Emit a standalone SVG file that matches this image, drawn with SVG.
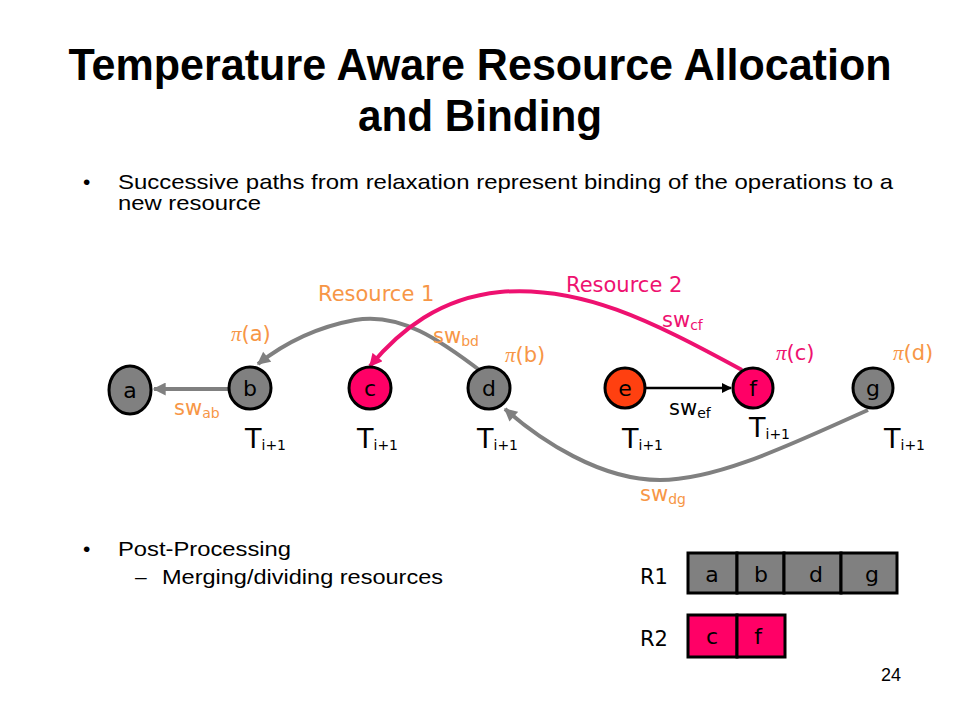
<svg xmlns="http://www.w3.org/2000/svg" width="960" height="720" viewBox="0 0 960 720">
<style>
.title{font-family:"Liberation Sans",Arial,sans-serif;font-weight:bold;font-size:44px;fill:#000}
.body{font-family:"Liberation Sans",Arial,sans-serif;font-size:21px;fill:#000}
.lbl{font-family:"DejaVu Sans",Verdana,sans-serif;font-size:21px}
.nl{font-family:"DejaVu Sans",Verdana,sans-serif;font-size:22px;fill:#000;text-anchor:middle}
.t{font-family:"DejaVu Sans",Verdana,sans-serif;font-size:27px;fill:#000}
.sub{font-size:14px}
.or{fill:#F79646}
.mg{fill:#EE1170}
.bk{fill:#000}
.node{stroke:#000;stroke-width:3}
.gray{fill:#808080}
.pink{fill:#FF0066}
.cell{stroke:#000;stroke-width:3}
.eg{fill:none;stroke:#808080;stroke-width:4}
.em{fill:none;stroke:#EE1170;stroke-width:4}
.eb{fill:none;stroke:#000;stroke-width:2.5}
</style>
<defs>
<marker id="ag" markerUnits="userSpaceOnUse" viewBox="0 0 10 10" refX="9" refY="5" markerWidth="14" markerHeight="13" orient="auto"><path d="M0,0 L10,5 L0,10 Z" fill="#808080"/></marker>
<marker id="am" markerUnits="userSpaceOnUse" viewBox="0 0 10 10" refX="9" refY="5" markerWidth="14" markerHeight="13" orient="auto"><path d="M0,0 L10,5 L0,10 Z" fill="#EE1170"/></marker>
<marker id="ab" markerUnits="userSpaceOnUse" viewBox="0 0 10 10" refX="9" refY="5" markerWidth="12" markerHeight="10" orient="auto"><path d="M0,0 L10,5 L0,10 Z" fill="#000"/></marker>
</defs>
<rect width="960" height="720" fill="#fff"/>
<text class="title" x="480" y="80" text-anchor="middle" textLength="823" lengthAdjust="spacingAndGlyphs">Temperature Aware Resource Allocation</text>
<text class="title" x="480" y="131" text-anchor="middle" textLength="244" lengthAdjust="spacingAndGlyphs">and Binding</text>
<text class="body" x="83" y="189">•</text>
<text class="body" x="118" y="189" textLength="775" lengthAdjust="spacingAndGlyphs">Successive paths from relaxation represent binding of the operations to a</text>
<text class="body" x="118" y="210" textLength="143" lengthAdjust="spacingAndGlyphs">new resource</text>
<text class="body" x="83" y="556">•</text>
<text class="body" x="118" y="556" textLength="173" lengthAdjust="spacingAndGlyphs">Post-Processing</text>
<text class="body" x="135" y="584">–</text>
<text class="body" x="162" y="584" textLength="281" lengthAdjust="spacingAndGlyphs">Merging/dividing resources</text>
<g id="connectors">
<line class="eg" x1="229" y1="389" x2="154" y2="389" marker-end="url(#ag)"/>
<path class="eg" d="M482,372 C440,340 400,312 355,320 C312,328 282,345 258,364" marker-end="url(#ag)"/>
<path class="em" d="M742,370 C650,320 580,285 500,292 C440,298 400,330 370,366" marker-end="url(#am)"/>
<line class="eb" x1="646" y1="388" x2="731" y2="388" marker-end="url(#ab)"/>
<path class="eg" d="M868,410 C800,440 720,480 660,480 C600,480 540,440 505,409" marker-end="url(#ag)"/>
</g>
<g id="node-a"><ellipse class="node gray" cx="130" cy="390" rx="21" ry="24"/><text class="nl" x="130" y="398">a</text></g>
<g id="node-b"><circle class="node gray" cx="250" cy="388" r="21"/><text class="nl" x="250" y="396">b</text></g>
<g id="node-c"><circle class="node pink" cx="370" cy="388" r="21"/><text class="nl" x="370" y="396">c</text></g>
<g id="node-d"><circle class="node gray" cx="489" cy="388" r="21"/><text class="nl" x="489" y="396">d</text></g>
<g id="node-e"><circle class="node" fill="#FF4010" cx="625" cy="388" r="20"/><text class="nl" x="625" y="396">e</text></g>
<g id="node-f"><circle class="node pink" cx="753" cy="388" r="20"/><text class="nl" x="753" y="396">f</text></g>
<g id="node-g"><circle class="node gray" cx="873" cy="388" r="20"/><text class="nl" x="873" y="396">g</text></g>
<g id="labels">
<text class="lbl or" x="318" y="301">Resource 1</text>
<text class="lbl mg" x="566" y="292">Resource 2</text>
<text class="lbl or" x="174" y="415">sw<tspan class="sub" dy="3">ab</tspan></text>
<text class="lbl or" x="433" y="343">sw<tspan class="sub" dy="3">bd</tspan></text>
<text class="lbl mg" x="662" y="327">sw<tspan class="sub" dy="3">cf</tspan></text>
<text class="lbl bk" x="669" y="415">sw<tspan class="sub" dy="3">ef</tspan></text>
<text class="lbl or" x="640" y="501">sw<tspan class="sub" dy="3">dg</tspan></text>
<text class="lbl or" x="231" y="341"><tspan font-family="'Liberation Serif',serif" font-style="italic">π</tspan>(a)</text>
<text class="lbl or" x="505" y="362"><tspan font-family="'Liberation Serif',serif" font-style="italic">π</tspan>(b)</text>
<text class="lbl mg" x="776" y="360"><tspan font-family="'Liberation Serif',serif" font-style="italic">π</tspan>(c)</text>
<text class="lbl or" x="893" y="360"><tspan font-family="'Liberation Serif',serif" font-style="italic">π</tspan>(d)</text>
<text class="t" x="245" y="448">T<tspan class="sub" dy="2">i+1</tspan></text>
<text class="t" x="357" y="448">T<tspan class="sub" dy="2">i+1</tspan></text>
<text class="t" x="477" y="448">T<tspan class="sub" dy="2">i+1</tspan></text>
<text class="t" x="622" y="448">T<tspan class="sub" dy="2">i+1</tspan></text>
<text class="t" x="749" y="437">T<tspan class="sub" dy="2">i+1</tspan></text>
<text class="t" x="884" y="448">T<tspan class="sub" dy="2">i+1</tspan></text>
</g>
<g id="R1">
<text class="lbl bk" x="640" y="584">R1</text>
<rect class="cell gray" x="688" y="553" width="49" height="40"/>
<rect class="cell gray" x="737" y="553" width="47" height="40"/>
<rect class="cell gray" x="784" y="553" width="57" height="40"/>
<rect class="cell gray" x="841" y="553" width="56" height="40"/>
<text class="nl" x="712" y="582">a</text>
<text class="nl" x="761" y="582">b</text>
<text class="nl" x="816" y="582">d</text>
<text class="nl" x="872" y="582">g</text>
</g>
<g id="R2">
<text class="lbl bk" x="640" y="646">R2</text>
<rect class="cell pink" x="688" y="615" width="49" height="42"/>
<rect class="cell pink" x="737" y="615" width="48" height="42"/>
<text class="nl" x="712" y="644">c</text>
<text class="nl" x="758" y="644">f</text>
</g>
<text class="body" x="881" y="681" style="font-size:18px">24</text>
</svg>
